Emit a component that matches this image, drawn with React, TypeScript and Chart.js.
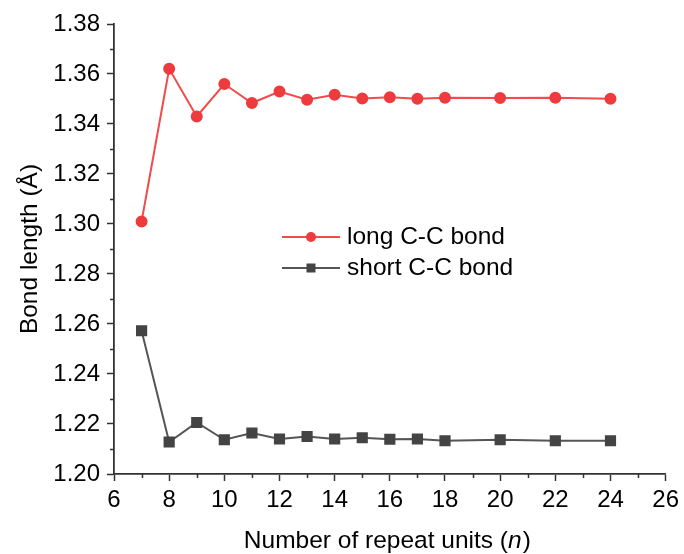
import React, { useEffect, useRef } from "react";
import { Chart, registerables } from "chart.js";

Chart.register(...registerables);

const repeatUnits = [7, 8, 9, 10, 11, 12, 13, 14, 15, 16, 17, 18, 20, 22, 24];
const longBond = [1.301, 1.3621, 1.343, 1.356, 1.3484, 1.353, 1.3497, 1.3517, 1.3502, 1.3507, 1.3501, 1.3505, 1.3504, 1.3505, 1.3501];
const shortBond = [1.2573, 1.2128, 1.2206, 1.2137, 1.2164, 1.214, 1.215, 1.214, 1.2145, 1.2139, 1.214, 1.2133, 1.2137, 1.2133, 1.2133];
const seriesNames = ["long C-C bond", "short C-C bond"];
const xTitle = "Number of repeat units (";
const xTitleItalic = "n";
const yTitle = "Bond length (Å)";

const FONT = "'Liberation Sans', Arial, sans-serif";
const TEXT_SIZE = 24.5;
const TICK_SIZE = 24;
const RED_LINE = "#F24B4B";
const RED_PT = "#EE3B3D";
const GRAY_LINE = "#555555";
const GRAY_PT = "#444444";
const AXIS = "#333333";

const minorTicks = {
  id: "minorTicks",
  afterDraw(chart: any) {
    const { ctx, scales } = chart;
    const xs = scales.x;
    const ys = scales.y;
    ctx.save();
    ctx.strokeStyle = AXIS;
    ctx.lineWidth = 1.5;
    ctx.beginPath();
    for (let v = 7; v < 26; v += 2) {
      const px = Math.round(xs.getPixelForValue(v)) + 0.5;
      ctx.moveTo(px, xs.top);
      ctx.lineTo(px, xs.top + 4);
    }
    for (let i = 0; i < 9; i++) {
      const v = 1.21 + i * 0.02;
      const py = Math.round(ys.getPixelForValue(v)) + 0.5;
      ctx.moveTo(ys.right, py);
      ctx.lineTo(ys.right - 4, py);
    }
    ctx.stroke();
    ctx.restore();
  },
};

const customLegend = {
  id: "customLegend",
  afterDraw(chart: any) {
    const { ctx } = chart;
    const x0 = 282;
    const x1 = 340;
    const rows = [
      { y: 237, line: RED_LINE, pt: RED_PT, shape: "circle", text: seriesNames[0] },
      { y: 268, line: GRAY_LINE, pt: GRAY_PT, shape: "rect", text: seriesNames[1] },
    ];
    ctx.save();
    rows.forEach((r) => {
      ctx.strokeStyle = r.line;
      ctx.lineWidth = 2;
      ctx.beginPath();
      ctx.moveTo(x0, r.y);
      ctx.lineTo(x1, r.y);
      ctx.stroke();
      ctx.fillStyle = r.pt;
      const cx = (x0 + x1) / 2;
      if (r.shape === "circle") {
        ctx.beginPath();
        ctx.arc(cx, r.y, 5, 0, Math.PI * 2);
        ctx.fill();
      } else {
        ctx.fillRect(cx - 4.5, r.y - 4.5, 9, 9);
      }
      ctx.fillStyle = "#000";
      ctx.font = `${TEXT_SIZE}px ${FONT}`;
      ctx.textBaseline = "middle";
      ctx.textAlign = "left";
      ctx.fillText(r.text, 347, r.y);
    });
    ctx.restore();
  },
};

const xTitlePlugin = {
  id: "xTitlePlugin",
  afterDraw(chart: any) {
    const { ctx, scales } = chart;
    const xs = scales.x;
    const cx = (xs.left + xs.right) / 2 - 3;
    const y = 541;
    ctx.save();
    ctx.fillStyle = "#000";
    ctx.textBaseline = "middle";
    const fNorm = `${TEXT_SIZE}px ${FONT}`;
    const fItal = `italic ${TEXT_SIZE}px ${FONT}`;
    ctx.font = fNorm;
    const w1 = ctx.measureText(xTitle).width;
    const w3 = ctx.measureText(")").width;
    ctx.font = fItal;
    const w2 = ctx.measureText(xTitleItalic).width;
    let x = cx - (w1 + w2 + w3) / 2;
    ctx.textAlign = "left";
    ctx.font = fNorm;
    ctx.fillText(xTitle, x, y);
    x += w1;
    ctx.font = fItal;
    ctx.fillText(xTitleItalic, x, y);
    x += w2 + 1;
    ctx.font = fNorm;
    ctx.fillText(")", x, y);
    ctx.restore();
  },
};

export default function App() {
  const ref = useRef<HTMLCanvasElement>(null);
  useEffect(() => {
    document.body.style.margin = "0";
    const chart = new Chart(ref.current as HTMLCanvasElement, {
      type: "line",
      data: {
        datasets: [
          {
            label: seriesNames[0],
            data: repeatUnits.map((n, i) => ({ x: n, y: longBond[i] })),
            borderColor: RED_LINE,
            backgroundColor: RED_PT,
            pointBackgroundColor: RED_PT,
            pointBorderColor: RED_PT,
            pointStyle: "circle",
            pointRadius: 5,
            borderWidth: 2,
            tension: 0,
          },
          {
            label: seriesNames[1],
            data: repeatUnits.map((n, i) => ({ x: n, y: shortBond[i] })),
            borderColor: GRAY_LINE,
            backgroundColor: GRAY_PT,
            pointBackgroundColor: GRAY_PT,
            pointBorderColor: GRAY_PT,
            pointStyle: "rect",
            pointRadius: 6.5,
            borderWidth: 2,
            tension: 0,
          },
        ],
      },
      options: {
        animation: false,
        responsive: false,
        events: [],
        layout: { padding: { left: 0, right: 17, top: 24, bottom: 0 } },
        plugins: { legend: { display: false }, tooltip: { enabled: false } },
        scales: {
          x: {
            type: "linear",
            min: 6,
            max: 26,
            afterFit: (s: any) => {
              s.height = 554 - 474;
            },
            ticks: {
              stepSize: 2,
              color: "#000",
              font: { family: FONT, size: TICK_SIZE },
              padding: 5,
              maxRotation: 0,
            },
            grid: { drawOnChartArea: false, drawTicks: true, tickLength: 7, tickColor: AXIS, tickWidth: 1.5 },
            border: { display: true, color: AXIS, width: 1.8 },
            title: { display: false },
          },
          y: {
            type: "linear",
            min: 1.2,
            max: 1.38,
            afterFit: (s: any) => {
              s.width = 114;
            },
            afterBuildTicks: (s: any) => {
              const t = [];
              for (let i = 0; i <= 9; i++) t.push({ value: Math.round((1.2 + i * 0.02) * 100) / 100 });
              s.ticks = t;
            },
            ticks: {
              color: "#000",
              font: { family: FONT, size: TICK_SIZE },
              padding: 7,
              callback: (v: any) => Number(v).toFixed(2),
            },
            grid: { drawOnChartArea: false, drawTicks: true, tickLength: 7, tickColor: AXIS, tickWidth: 1.5 },
            border: { display: true, color: AXIS, width: 1.8 },
            title: {
              display: true,
              text: yTitle,
              color: "#000",
              font: { family: FONT, size: TEXT_SIZE, lineHeight: 1.2 },
              padding: { top: 16, bottom: 0 },
            },
          },
        },
      },
      plugins: [minorTicks, customLegend, xTitlePlugin],
    } as any);
    return () => chart.destroy();
  }, []);
  return (
    <div style={{ position: "absolute", left: 0, top: 0, width: 684, height: 554, background: "#fff" }}>
      <canvas ref={ref} width={684} height={554} />
    </div>
  );
}
